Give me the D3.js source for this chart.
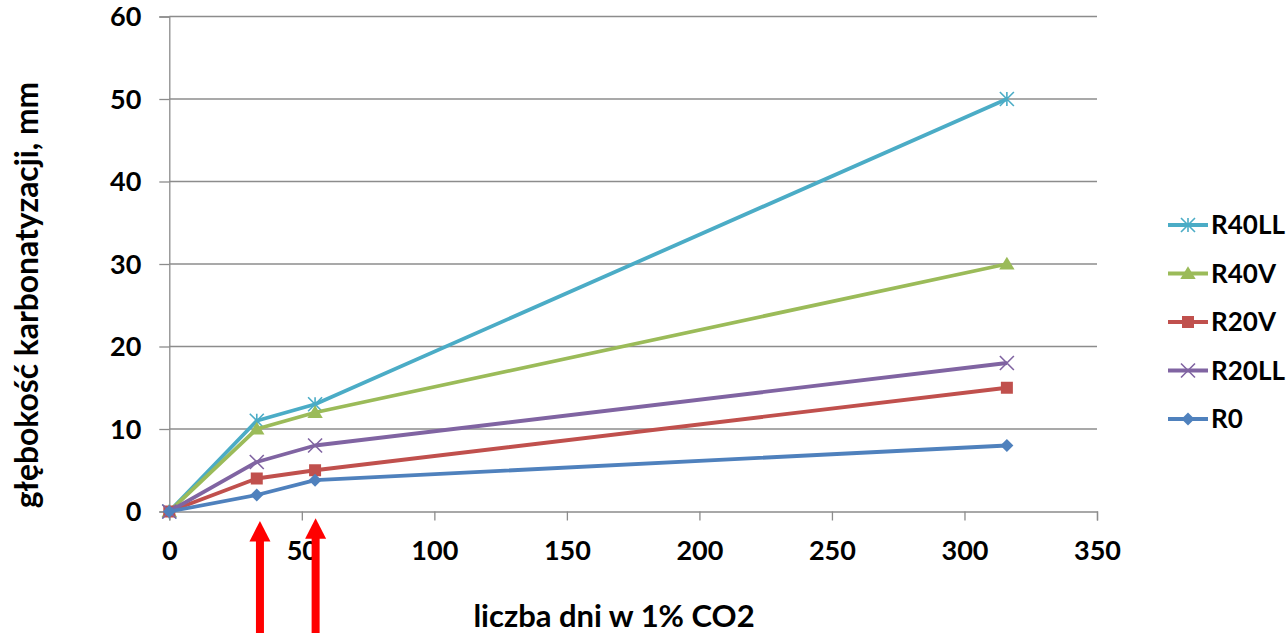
<!DOCTYPE html>
<html>
<head>
<meta charset="utf-8">
<script src="https://cdn.jsdelivr.net/npm/d3@7"></script>
<style>
  html, body { margin: 0; padding: 0; background: #fff; }
  svg { display: block; }
  text { font-family: Lato, "Open Sans", sans-serif; font-weight: 700; fill: #000; }
</style>
</head>
<body>
<svg id="chart" width="1288" height="633"></svg>
<script>
// Exposure time (days in 1% CO2) at which carbonation depth was measured
const days = [0, 33, 55, 316];

// Carbonation depth, mm, per mix
const seriesNames = ["R40LL", "R40V", "R20V", "R20LL", "R0"];
const R40LL = [0, 11, 13, 50];
const R40V  = [0, 10, 12, 30];
const R20V  = [0, 4, 5, 15];
const R20LL = [0, 6, 8, 18];
const R0    = [0, 2, 3.8, 8];

const xTicks = [0, 50, 100, 150, 200, 250, 300, 350];
const yTicks = [0, 10, 20, 30, 40, 50, 60];

// Marked measurement times
const markedDays = [34.2, 55.2];

const seriesValues = { R40LL, R40V, R20V, R20LL, R0 };
const colors = { R40LL: "#4BACC6", R40V: "#9BBB59", R20V: "#C0504D", R20LL: "#8064A2", R0: "#4F81BD" };
const markers = { R40LL: "star", R40V: "triangle", R20V: "square", R20LL: "cross", R0: "diamond" };

const svg = d3.select("#chart");
const plot = { left: 169.3, top: 16.5, right: 1097, bottom: 511.5 };

const x = d3.scaleLinear().domain([0, 350]).range([plot.left, plot.right]);
const y = d3.scaleLinear().domain([0, 60]).range([plot.bottom, plot.top]);

const gridColor = "#8c8c8c";

// Horizontal gridlines
svg.append("g")
  .selectAll("line")
  .data(yTicks.filter(d => d > 0))
  .join("line")
  .attr("x1", plot.left).attr("x2", plot.right)
  .attr("y1", d => y(d)).attr("y2", d => y(d))
  .attr("stroke", gridColor).attr("stroke-width", 1.3);

// Y axis
const yAxis = svg.append("g")
  .attr("transform", `translate(${plot.left},0)`)
  .call(d3.axisLeft(y).tickValues(yTicks).tickSize(10).tickPadding(0).tickFormat(d3.format("d")));
yAxis.select(".domain").attr("stroke", gridColor).attr("stroke-width", 1.3);
yAxis.selectAll(".tick line").attr("stroke", gridColor).attr("stroke-width", 1.3);
yAxis.selectAll(".tick text")
  .attr("x", -28).attr("dy", "0.35em")
  .style("font-size", "27px").style("font-family", "Lato, sans-serif").style("font-weight", 700)
  .attr("fill", "#000");

// X axis
const xAxis = svg.append("g")
  .attr("transform", `translate(0,${plot.bottom})`)
  .call(d3.axisBottom(x).tickValues(xTicks).tickSize(9).tickPadding(0).tickFormat(d3.format("d")));
xAxis.select(".domain").attr("stroke", gridColor).attr("stroke-width", 1.3);
xAxis.selectAll(".tick line").attr("stroke", gridColor).attr("stroke-width", 1.3);
xAxis.selectAll(".tick text")
  .attr("y", 48).attr("dy", 0)
  .style("font-size", "27px").style("font-family", "Lato, sans-serif").style("font-weight", 700)
  .attr("fill", "#000");

// Axis titles
svg.append("text")
  .attr("x", 614).attr("y", 627)
  .attr("text-anchor", "middle")
  .style("font-size", "31px")
  .text("liczba dni w 1% CO2");

svg.append("text")
  .attr("transform", "translate(37.5,295) rotate(-90)")
  .attr("text-anchor", "middle")
  .style("font-size", "31.8px")
  .text("głębokość karbonatyzacji, mm");

// Marker shapes, centred on (0,0)
function markerPath(type, s) {
  const h = s / 2;
  switch (type) {
    case "star":
      return `M0,${-h}V${h}M${-h},${-h}L${h},${h}M${-h},${h}L${h},${-h}`;
    case "cross":
      return `M${-h},${-h}L${h},${h}M${-h},${h}L${h},${-h}`;
    case "triangle":
      return `M0,${-h * 1.05}L${h * 1.1},${h * 0.8}L${-h * 1.1},${h * 0.8}Z`;
    case "square":
      return `M${-h},${-h}H${h}V${h}H${-h}Z`;
    case "diamond":
      return `M0,${-h}L${h},0L0,${h}L${-h},0Z`;
  }
}
const markerSize = { star: 14, cross: 14, triangle: 14, square: 12, diamond: 13 };

function drawMarker(g, name, cx, cy) {
  const type = markers[name];
  const open = type === "star" || type === "cross";
  g.append("path")
    .attr("transform", `translate(${cx},${cy})`)
    .attr("d", markerPath(type, markerSize[type]))
    .attr("fill", open ? "none" : colors[name])
    .attr("stroke", colors[name])
    .attr("stroke-width", open ? 1.6 : 0);
}

const line = d3.line().x(d => x(d[0])).y(d => y(d[1]));

// Series lines and markers
const seriesG = svg.append("g");
seriesNames.forEach(name => {
  const pts = days.map((d, i) => [d, seriesValues[name][i]]);
  const g = seriesG.append("g");
  g.append("path")
    .datum(pts)
    .attr("d", line)
    .attr("fill", "none")
    .attr("stroke", colors[name])
    .attr("stroke-width", 3.8)
    .attr("stroke-linejoin", "round");
  pts.forEach(p => drawMarker(g, name, x(p[0]), y(p[1])));
});

// Legend
const legendRows = [225, 273.5, 322, 370.5, 419];
const legend = svg.append("g");
seriesNames.forEach((name, i) => {
  const cy = legendRows[i];
  const g = legend.append("g");
  g.append("line")
    .attr("x1", 1168).attr("x2", 1208)
    .attr("y1", cy).attr("y2", cy)
    .attr("stroke", colors[name]).attr("stroke-width", 3.8);
  drawMarker(g, name, 1188, cy);
  g.append("text")
    .attr("x", 1211).attr("y", cy).attr("dy", "0.36em")
    .style("font-size", "26px")
    .text(name);
});

// Red arrows pointing at the marked times
const arrowTips = [521, 518.3];
const arrows = svg.append("g");
markedDays.forEach((d, i) => {
  const cx = x(d);
  const tip = arrowTips[i];
  const base = tip + 20.5;
  arrows.append("rect")
    .attr("x", cx - 4).attr("y", base - 1)
    .attr("width", 8).attr("height", 633 - base + 2)
    .attr("fill", "#ff0000");
  arrows.append("path")
    .attr("d", `M${cx},${tip}L${cx + 10.5},${base}L${cx - 10.5},${base}Z`)
    .attr("fill", "#ff0000");
});
</script>
</body>
</html>
